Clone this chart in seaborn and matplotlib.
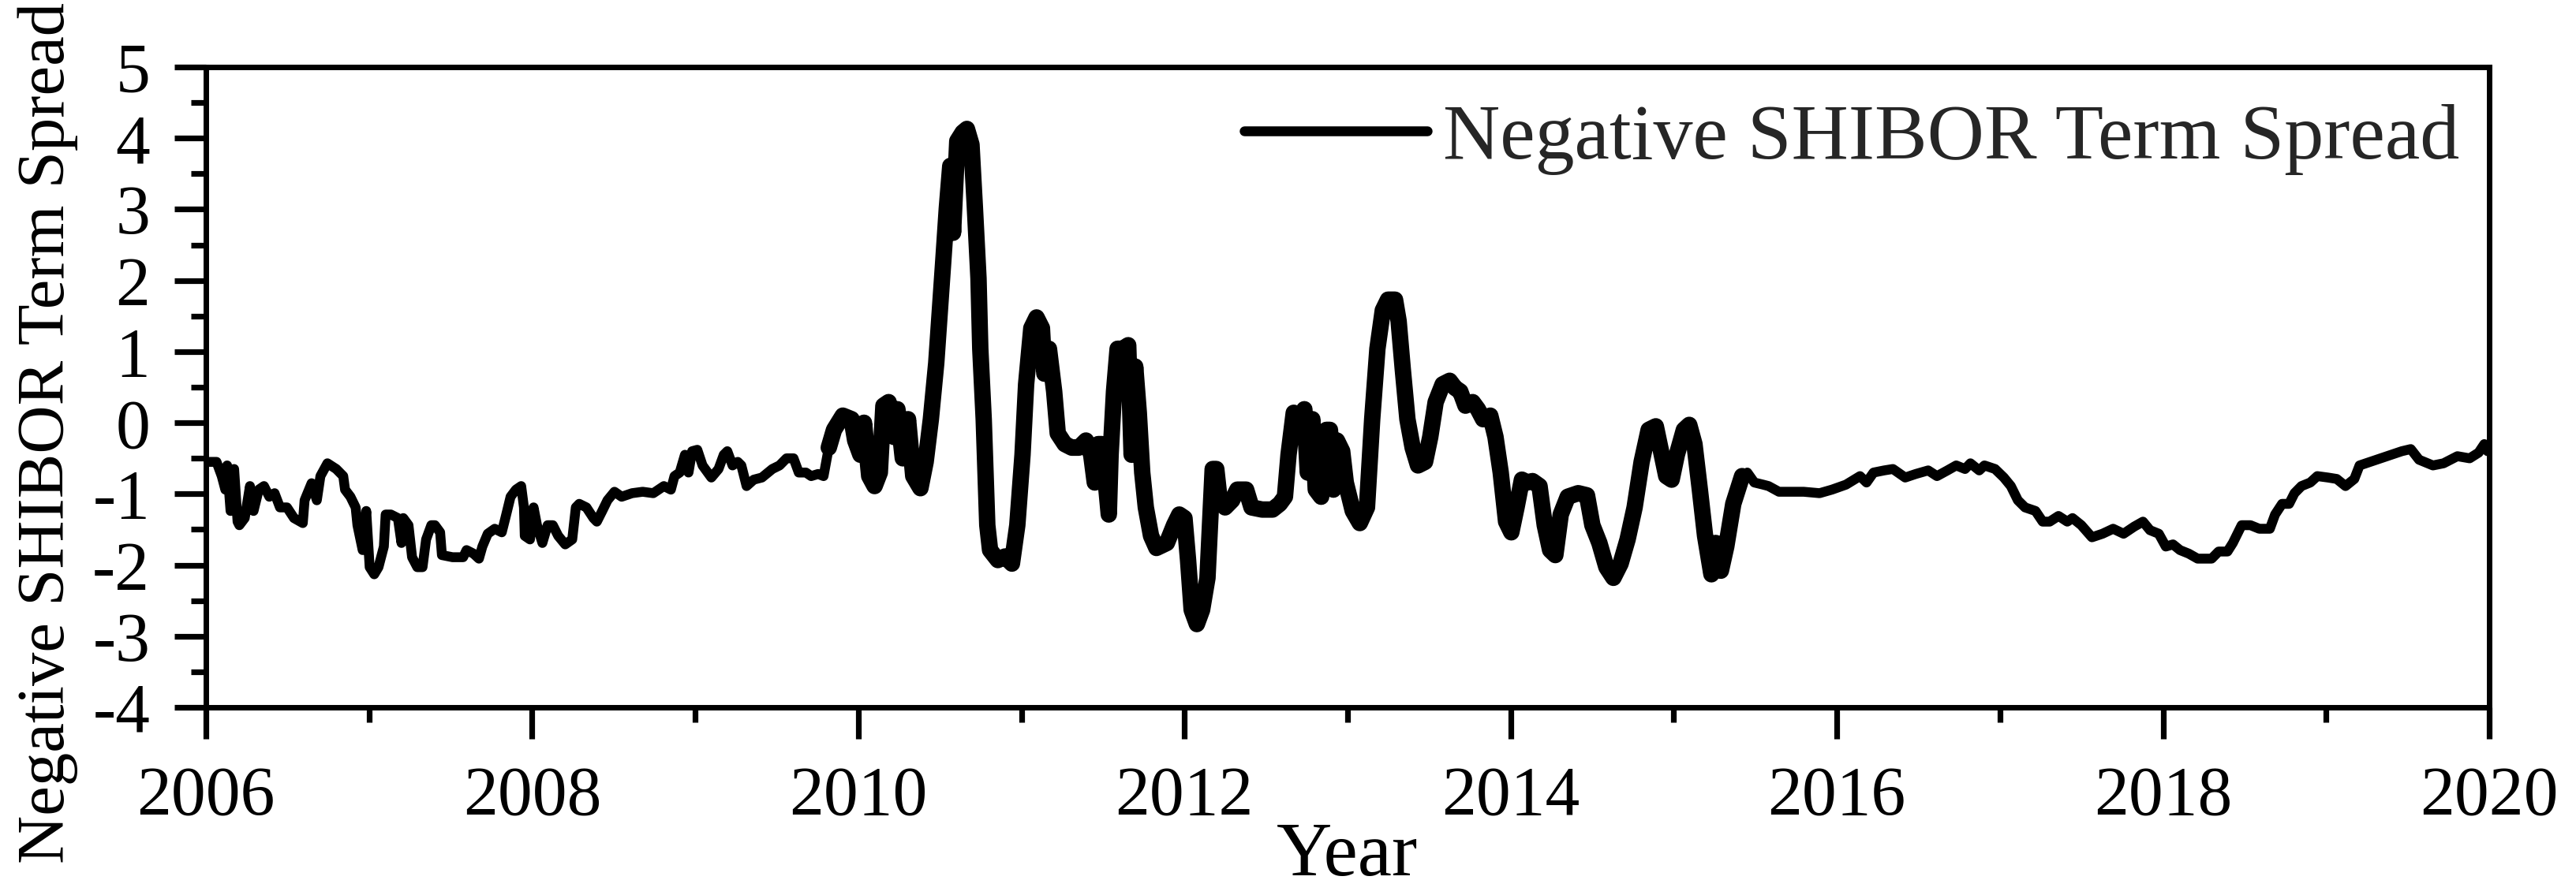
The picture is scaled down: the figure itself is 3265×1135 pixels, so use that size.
import matplotlib
matplotlib.use("Agg")
import matplotlib.pyplot as plt
from matplotlib.ticker import MultipleLocator
import seaborn as sns

# ---------------- Data ----------------
years = [
    2006.022, 2006.065, 2006.097, 2006.119, 2006.130, 2006.151, 2006.173, 2006.194, 2006.205, 2006.238,
    2006.270, 2006.292, 2006.324, 2006.356, 2006.389, 2006.421, 2006.454, 2006.497, 2006.540, 2006.594,
    2006.605, 2006.648, 2006.680, 2006.702, 2006.745, 2006.799, 2006.842, 2006.853, 2006.886, 2006.918,
    2006.929, 2006.961, 2006.983, 2007.004, 2007.032, 2007.058, 2007.091, 2007.102, 2007.134, 2007.177,
    2007.199, 2007.210, 2007.242, 2007.264, 2007.296, 2007.328, 2007.350, 2007.382, 2007.404, 2007.436,
    2007.447, 2007.512, 2007.577, 2007.598, 2007.641, 2007.674, 2007.695, 2007.728, 2007.771, 2007.814,
    2007.836, 2007.868, 2007.901, 2007.933, 2007.950, 2007.955, 2007.987, 2008.009, 2008.030, 2008.063,
    2008.095, 2008.127, 2008.160, 2008.203, 2008.246, 2008.268, 2008.289, 2008.333, 2008.376, 2008.397,
    2008.430, 2008.462, 2008.505, 2008.549, 2008.613, 2008.678, 2008.743, 2008.808, 2008.851, 2008.873,
    2008.905, 2008.937, 2008.959, 2008.981, 2009.013, 2009.045, 2009.099, 2009.143, 2009.175, 2009.197,
    2009.229, 2009.261, 2009.283, 2009.315, 2009.359,
    2009.409, 2009.473, 2009.517, 2009.560, 2009.603, 2009.635, 2009.679, 2009.711, 2009.754, 2009.787,
    2009.819, 2009.851, 2009.905, 2009.959, 2009.981, 2010.013, 2010.035, 2010.067, 2010.100, 2010.132,
    2010.154, 2010.186, 2010.219, 2010.240, 2010.273, 2010.305, 2010.337, 2010.381, 2010.413, 2010.445,
    2010.478, 2010.499, 2010.521, 2010.543, 2010.564, 2010.581, 2010.607, 2010.640, 2010.666, 2010.694,
    2010.715, 2010.737, 2010.748, 2010.769, 2010.780, 2010.791, 2010.808, 2010.856, 2010.899, 2010.942,
    2010.975, 2011.007, 2011.029, 2011.061, 2011.093, 2011.126, 2011.141, 2011.169, 2011.201, 2011.223,
    2011.266, 2011.309, 2011.352, 2011.396, 2011.428, 2011.450, 2011.471, 2011.493, 2011.514, 2011.536,
    2011.547, 2011.568, 2011.590, 2011.622, 2011.655, 2011.676, 2011.698, 2011.720, 2011.741, 2011.763,
    2011.795, 2011.828, 2011.892, 2011.936, 2011.968, 2012.000, 2012.022, 2012.044, 2012.076, 2012.108,
    2012.141, 2012.162, 2012.173, 2012.195, 2012.216, 2012.249, 2012.292, 2012.324, 2012.378, 2012.411,
    2012.476, 2012.540, 2012.584, 2012.616, 2012.638, 2012.670, 2012.713, 2012.735, 2012.756,
    2012.784, 2012.805, 2012.838, 2012.870, 2012.892, 2012.913, 2012.935, 2012.967, 2012.989, 2013.032,
    2013.075, 2013.119, 2013.151, 2013.183, 2013.216, 2013.248, 2013.291, 2013.313, 2013.339, 2013.367,
    2013.399, 2013.432, 2013.475, 2013.507, 2013.540, 2013.583, 2013.626, 2013.659, 2013.691, 2013.723,
    2013.767, 2013.799, 2013.831, 2013.875, 2013.907, 2013.939, 2013.972, 2014.004, 2014.036, 2014.069,
    2014.101, 2014.134, 2014.177, 2014.209, 2014.242, 2014.274, 2014.307, 2014.350, 2014.414, 2014.468,
    2014.501, 2014.544, 2014.587, 2014.630, 2014.674, 2014.717, 2014.760, 2014.803, 2014.846, 2014.890,
    2014.922, 2014.954, 2014.987, 2015.019, 2015.062, 2015.095, 2015.127, 2015.160, 2015.192, 2015.231,
    2015.257, 2015.289, 2015.322, 2015.365, 2015.419, 2015.451, 2015.494, 2015.548, 2015.581, 2015.645,
    2015.710, 2015.797, 2015.894, 2015.970, 2016.056, 2016.142,
    2016.182, 2016.225, 2016.290, 2016.344, 2016.419, 2016.484, 2016.560, 2016.614, 2016.678, 2016.732,
    2016.786, 2016.819, 2016.873, 2016.905, 2016.970, 2017.024, 2017.067, 2017.110, 2017.154, 2017.218,
    2017.262, 2017.305, 2017.359, 2017.413, 2017.445, 2017.499, 2017.564, 2017.629, 2017.694, 2017.758,
    2017.823, 2017.877, 2017.920, 2017.974, 2018.017, 2018.061, 2018.104, 2018.158, 2018.212, 2018.266,
    2018.298, 2018.341, 2018.395, 2018.428, 2018.482, 2018.536, 2018.590, 2018.655, 2018.687, 2018.730,
    2018.773, 2018.806, 2018.849, 2018.903, 2018.946, 2019.011, 2019.065, 2019.119, 2019.173, 2019.205,
    2019.270, 2019.335, 2019.400, 2019.464, 2019.519, 2019.570, 2019.655, 2019.720, 2019.805, 2019.880,
    2019.935, 2019.970, 2019.990,
]

spread = [
    -0.55, -0.55, -0.75, -0.94, -0.60, -1.24, -0.65, -1.39, -1.44, -1.34,
    -0.89, -1.24, -0.94, -0.89, -1.04, -0.99, -1.19, -1.19, -1.34, -1.41,
    -1.09, -0.85, -1.09, -0.75, -0.57, -0.65, -0.75, -0.94, -1.04, -1.19,
    -1.44, -1.79, -1.24, -2.03, -2.13, -2.03, -1.74, -1.29, -1.29, -1.34,
    -1.69, -1.34, -1.44, -1.89, -2.03, -2.03, -1.64, -1.44, -1.44, -1.54,
    -1.86, -1.89, -1.89, -1.79, -1.84, -1.91, -1.74, -1.56, -1.49, -1.54,
    -1.34, -1.04, -0.94, -0.89, -1.19, -1.59, -1.64, -1.19, -1.44, -1.69,
    -1.44, -1.44, -1.59, -1.71, -1.64, -1.19, -1.14, -1.19, -1.34, -1.39,
    -1.24, -1.09, -0.97, -1.04, -0.99, -0.97, -0.99, -0.89, -0.94, -0.75,
    -0.70, -0.45, -0.70, -0.40, -0.38, -0.60, -0.77, -0.65, -0.45, -0.40,
    -0.60, -0.55, -0.60, -0.89, -0.80,
    -0.77, -0.65, -0.60, -0.50, -0.50, -0.70, -0.70, -0.75, -0.72, -0.75,
    -0.35, -0.10, 0.10, 0.05, -0.25, -0.45, 0.00, -0.75, -0.89, -0.70,
    0.24, 0.29, -0.20, 0.19, -0.50, 0.05, -0.75, -0.92, -0.55, 0.05,
    0.84, 1.53, 2.27, 3.02, 3.61, 2.67, 3.96, 4.08, 4.13, 3.91,
    3.02, 2.03, 1.04, 0.05, -0.70, -1.44, -1.79, -1.93, -1.88, -1.98,
    -1.44, -0.45, 0.54, 1.33, 1.48, 1.33, 0.69, 1.04, 0.44, -0.15,
    -0.30, -0.35, -0.35, -0.25, -0.45, -0.84, -0.30, -0.30, -0.75, -1.29,
    -0.45, 0.44, 1.04, 1.04, 1.09, -0.45, 0.79, 0.14, -0.70, -1.19,
    -1.59, -1.76, -1.69, -1.44, -1.29, -1.34, -1.93, -2.63, -2.83, -2.63,
    -2.18, -1.19, -0.65, -0.65, -1.09, -1.19, -1.09, -0.94, -0.94, -1.19,
    -1.22, -1.22, -1.14, -1.04, -0.45, 0.14, 0.05, 0.19, -0.70,
    0.05, -0.94, -1.04, -0.10, -0.10, -0.94, -0.25, -0.40, -0.84, -1.24,
    -1.41, -1.19, 0.05, 1.04, 1.58, 1.73, 1.73, 1.43, 0.74, 0.05,
    -0.35, -0.60, -0.55, -0.20, 0.29, 0.54, 0.59, 0.49, 0.44, 0.24,
    0.29, 0.19, 0.05, 0.10, -0.20, -0.70, -1.39, -1.54, -1.19, -0.80,
    -0.84, -0.82, -0.89, -1.44, -1.79, -1.86, -1.29, -1.04, -0.99, -1.02,
    -1.44, -1.69, -2.03, -2.18, -1.98, -1.64, -1.19, -0.55, -0.10, -0.05,
    -0.40, -0.75, -0.80, -0.45, -0.10, -0.03, -0.30, -0.94, -1.59, -2.13,
    -1.69, -2.08, -1.74, -1.14, -0.75, -0.70, -0.84, -0.87, -0.89, -0.97,
    -0.97, -0.97, -0.99, -0.94, -0.87, -0.75,
    -0.84, -0.70, -0.67, -0.65, -0.77, -0.72, -0.67, -0.75, -0.67, -0.60,
    -0.65, -0.57, -0.67, -0.60, -0.65, -0.77, -0.89, -1.09, -1.19, -1.24,
    -1.39, -1.39, -1.31, -1.39, -1.34, -1.44, -1.61, -1.56, -1.49, -1.56,
    -1.46, -1.39, -1.51, -1.56, -1.74, -1.71, -1.79, -1.84, -1.91, -1.91,
    -1.91, -1.81, -1.81, -1.69, -1.44, -1.44, -1.49, -1.49, -1.29, -1.14,
    -1.14, -0.99, -0.89, -0.84, -0.75, -0.77, -0.79, -0.89, -0.79, -0.60,
    -0.55, -0.50, -0.45, -0.40, -0.37, -0.52, -0.60, -0.57, -0.47, -0.50,
    -0.42, -0.30, -0.40,
]

# the 2009.8-2015.5 stretch is drawn heavier: daily swings fill the band there
volatile_start, volatile_end = 2009.8, 2015.45

x_ticks = [2006, 2008, 2010, 2012, 2014, 2016, 2018, 2020]
y_ticks = [5, 4, 3, 2, 1, 0, -1, -2, -3, -4]
series_label = "Negative SHIBOR Term Spread"

# ---------------- Style ----------------
sns.set_theme(style="white")
plt.rcParams["font.family"] = ["Liberation Serif", "DejaVu Serif"]
plt.rcParams["axes.unicode_minus"] = False

fig = plt.figure(figsize=(32.66, 11.35), dpi=100)
ax = fig.add_axes([261 / 3266, 1 - 897 / 1135, 2894 / 3266, 812 / 1135])

sns.lineplot(x=years, y=spread, ax=ax, color="black", linewidth=9,
             estimator=None, sort=False, label=series_label,
             solid_capstyle="round", solid_joinstyle="round")

vol_x = [x for x in years if volatile_start <= x <= volatile_end]
vol_y = [y for x, y in zip(years, spread) if volatile_start <= x <= volatile_end]
sns.lineplot(x=vol_x, y=vol_y, ax=ax, color="black", linewidth=15,
             estimator=None, sort=False, legend=False,
             solid_capstyle="round", solid_joinstyle="round")

ax.set_xlim(2006, 2020)
ax.set_ylim(-4, 5)
ax.set_xticks(x_ticks)
ax.set_yticks(y_ticks)
ax.xaxis.set_minor_locator(MultipleLocator(1))
ax.yaxis.set_minor_locator(MultipleLocator(0.5))

for side in ["left", "right", "top", "bottom"]:
    ax.spines[side].set_visible(True)
    ax.spines[side].set_color("black")
    ax.spines[side].set_linewidth(5.0)

ax.tick_params(axis="both", which="major", direction="out", length=29, width=5.2,
               color="black", labelsize=63, labelcolor="black")
ax.tick_params(axis="both", which="minor", direction="out", length=14, width=5.2,
               color="black")
ax.tick_params(axis="x", which="both", bottom=True, top=False, pad=24)
ax.tick_params(axis="y", which="both", left=True, right=False, pad=22)

ax.set_xlabel("Year", fontsize=70, color="black")
ax.set_ylabel(series_label, fontsize=61, color="black")
ax.xaxis.set_label_coords(0.5, -0.179)
ax.yaxis.set_label_coords(-0.056, 0.428)

ax.legend(loc="center right", bbox_to_anchor=(0.987, 0.887), frameon=False,
          fontsize=72, handlelength=2.32, handletextpad=0.2,
          borderpad=0, borderaxespad=0)

fig.savefig("out.png", dpi=100, facecolor="white")
